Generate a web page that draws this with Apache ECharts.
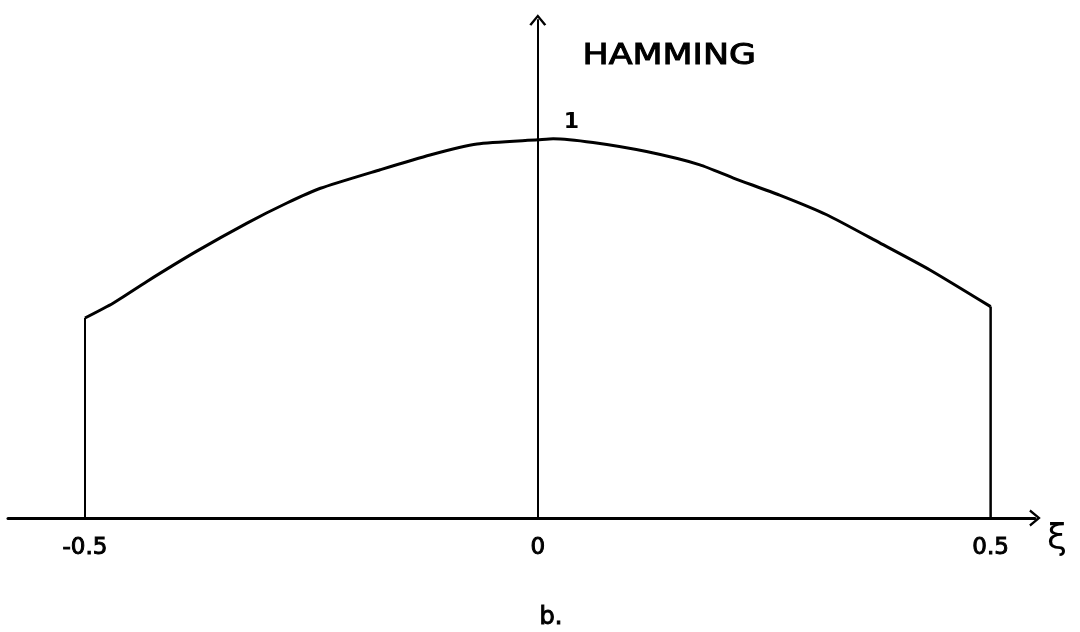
<!DOCTYPE html>
<html>
<head>
<meta charset="utf-8">
<script src="https://cdn.jsdelivr.net/npm/echarts@6/dist/echarts.min.js"></script>
<style>
  html, body { margin: 0; padding: 0; background: #fff; }
  #chart { width: 1080px; height: 632px; }
</style>
</head>
<body>
<div id="chart"></div>
<script>
// Hamming window (hand-drawn)
const curveX = [-0.5, -0.469, -0.432, -0.377, -0.321, -0.277, -0.24, -0.174, -0.119, -0.067, 0, 0.017, 0.061, 0.12, 0.179, 0.216, 0.267, 0.319, 0.378, 0.433, 0.5];
const curveY = [0.529, 0.568, 0.625, 0.705, 0.78, 0.833, 0.872, 0.921, 0.96, 0.989, 1.0, 1.003, 0.993, 0.969, 0.934, 0.899, 0.854, 0.802, 0.727, 0.656, 0.559];
const xTicks = [-0.5, 0, 0.5];
const peakLabel = '1';
const titleText = 'HAMMING';
const xName = 'ξ';
const captionText = 'b.';

const curveData = curveX.map((x, i) => [x, curveY[i]]);
const leftEdge = [[curveX[0], 0], [curveX[0], curveY[0]]];
const last = curveX.length - 1;
const rightEdge = [[curveX[last], curveY[last]], [curveX[last], 0]];

const chevron = 'path://M0,0 L10,12 L7.6,13.6 L0,4.2 L-7.6,13.6 L-10,12 Z';
const font = '"DejaVu Sans", sans-serif';

const chart = echarts.init(document.getElementById('chart'), null, { renderer: 'canvas' });
chart.setOption({
  backgroundColor: '#ffffff',
  animation: false,
  grid: { left: 8, right: 45, top: 20, bottom: 114, containLabel: false },
  xAxis: {
    type: 'value',
    min: -0.585,
    max: 0.549,
    name: xName,
    nameLocation: 'end',
    nameGap: 12,
    nameTextStyle: { fontFamily: font, fontSize: 36, color: '#000', verticalAlign: 'top', align: 'left', padding: [4, 0, 0, 0] },
    axisLine: { show: true, onZero: true, symbol: ['none', chevron], symbolSize: [17, 15], lineStyle: { color: '#000', width: 3 } },
    axisTick: { show: false },
    splitLine: { show: false },
    axisLabel: {
      customValues: xTicks,
      margin: 19,
      fontFamily: font,
      fontSize: 23,
      color: '#000',
      textBorderColor: '#000',
      textBorderWidth: 1,
      formatter: v => String(v)
    }
  },
  yAxis: {
    type: 'value',
    min: 0,
    max: 1.317,
    axisLine: { show: true, onZero: true, symbol: ['none', chevron], symbolSize: [17, 15], lineStyle: { color: '#000', width: 2 } },
    axisTick: { show: false },
    splitLine: { show: false },
    axisLabel: { show: false }
  },
  graphic: [
    {
      type: 'text',
      left: 582,
      top: 41,
      scaleX: 1.2,
      style: { text: titleText, font: '29px "DejaVu Sans", sans-serif', fill: '#000', stroke: '#000', lineWidth: 1 }
    },
    {
      type: 'text',
      left: 539,
      top: 605,
      style: { text: captionText, font: '24px "DejaVu Sans", sans-serif', fill: '#000', stroke: '#000', lineWidth: 1 }
    }
  ],
  series: [
    {
      type: 'line',
      data: curveData,
      smooth: 0.2,
      showSymbol: false,
      lineStyle: { color: '#000', width: 3 }
    },
    {
      type: 'line',
      data: leftEdge,
      showSymbol: false,
      lineStyle: { color: '#000', width: 2 }
    },
    {
      type: 'line',
      data: rightEdge,
      showSymbol: false,
      lineStyle: { color: '#000', width: 2.5 }
    },
    {
      type: 'scatter',
      data: [[0, 1]],
      symbolSize: 0,
      silent: true,
      itemStyle: { opacity: 1 },
      label: {
        show: true,
        formatter: peakLabel,
        position: 'right',
        distance: 5,
        offset: [21, -18],
        fontFamily: font,
        fontSize: 22,
        fontWeight: 'bold',
        color: '#000',
        opacity: 1,
        textBorderWidth: 0
      }
    }
  ]
});
</script>
</body>
</html>
